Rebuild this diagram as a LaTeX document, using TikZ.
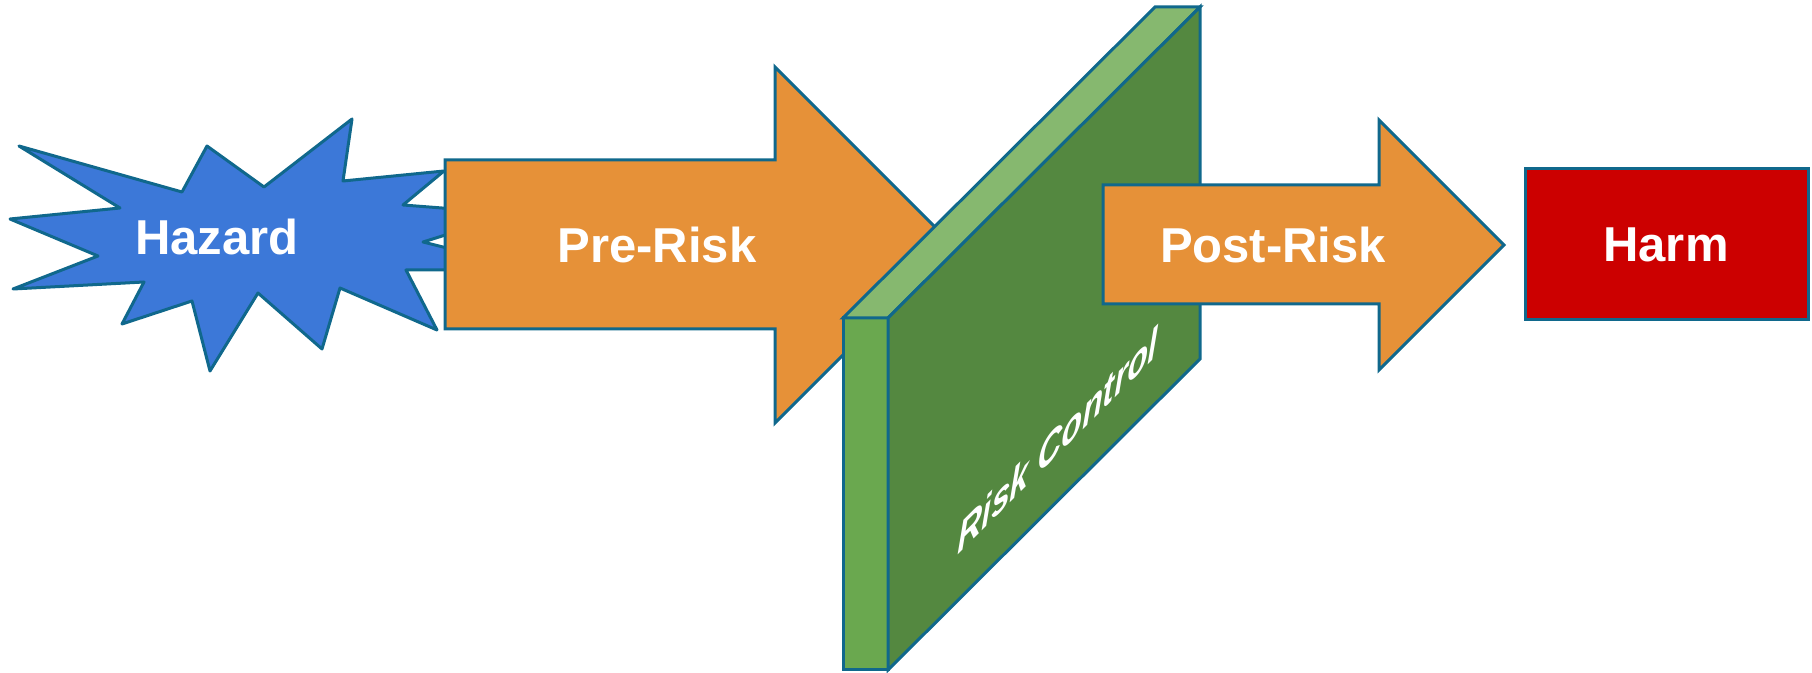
\documentclass[tikz,border=0pt]{standalone}
\usepackage{fontspec}
\setmainfont{Liberation Sans}
\usetikzlibrary{positioning}
\definecolor{edgeblue}{RGB}{16,104,140}
\definecolor{hazardblue}{RGB}{60,120,216}
\definecolor{riskorange}{RGB}{230,145,56}
\definecolor{wallface}{RGB}{84,136,64}
\definecolor{wallside}{RGB}{106,168,79}
\definecolor{walltop}{RGB}{134,184,111}
\definecolor{harmred}{RGB}{204,0,0}
\tikzset{
	block/.style={draw=edgeblue, line width=1.5pt},
	label/.style={text=white, font=\bfseries\fontsize{24.5}{29}\selectfont, inner sep=0pt},
	onwall/.style={font=\bfseries\itshape\fontsize{24.5}{29}\selectfont, transform shape, cm={0.684,0.684,0.04,0.894,(0,0)}},
}

\begin{document}
\begin{tikzpicture}[x=0.5pt, y=-0.5pt]
	\useasboundingbox (0,0) rectangle (1812,673);
	\draw[block, fill=hazardblue, line join=round]
	(19,146) -- (182,192) -- (207,146) -- (264,187) -- (352,119) -- (343,181)
	-- (444,171) -- (403,205) -- (455,209) -- (455,232) -- (423,242) -- (455,250)
	-- (455,270) -- (406,270) -- (437,330) -- (340,288) -- (322,349) -- (258,293)
	-- (210,371) -- (192,301) -- (122,324) -- (144,282) -- (13,289) -- (98,256)
	-- (10,219) -- (120,208) -- cycle;
	\node[label] (hazard) at (217,237) {Hazard};
	\draw[block, fill=riskorange]
	(445,160) -- (775,160) -- (775,67) -- (953,245) -- (775,423) -- (775,329) -- (445,329) -- cycle;
	\node[label] (prerisk) at (657,245) {Pre-Risk};
	\draw[block, fill=wallside] (843,318) rectangle (888,670);
	\draw[block, fill=walltop] (843,318) -- (1155,7) -- (1200,7) -- (888,318) -- cycle;
	\draw[block, fill=wallface] (888,318) -- (1200,7) -- (1200,359) -- (888,670) -- cycle;
	\node[label, onwall] (control) at (1058,440) {Risk Control};
	\draw[block, fill=riskorange]
	(1103,185) -- (1379,185) -- (1379,120) -- (1504,245) -- (1379,370) -- (1379,304) -- (1103,304) -- cycle;
	\node[label] (postrisk) at (1273,245) {Post-Risk};
	\draw[block, fill=harmred] (1525,169) rectangle (1808,320);
	\node[label] (harm) at (1666,245) {Harm};
\end{tikzpicture}
\end{document}
